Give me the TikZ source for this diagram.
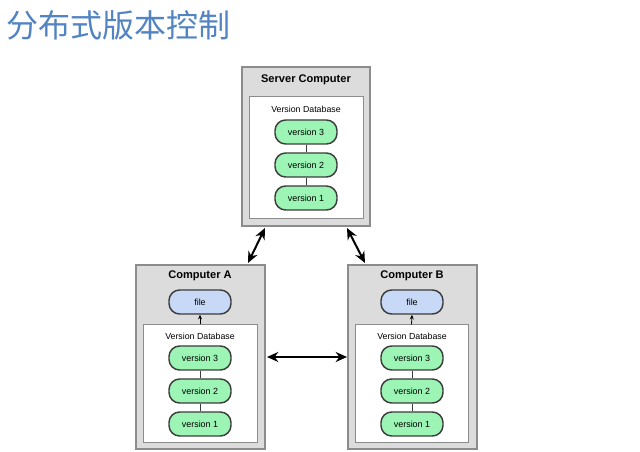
\documentclass[tikz,border=0pt]{standalone}
\usepackage{fontspec}
\setmainfont{Liberation Sans}
\newfontfamily\cjk{Noto Sans CJK SC}
\usetikzlibrary{arrows.meta}
\definecolor{titleblue}{HTML}{5283C2}
\definecolor{boxgray}{HTML}{DCDCDC}
\definecolor{boxedge}{HTML}{8C8C8C}
\definecolor{pillgreen}{HTML}{9CF5B5}
\definecolor{pillblue}{HTML}{C8D9F8}
\definecolor{pilledge}{HTML}{3C3C3C}
\begin{document}
\begin{tikzpicture}[x=0.75pt,y=-0.75pt,
  outerbox/.style={draw=boxedge, fill=boxgray, line width=0.9pt, inner sep=0pt},
  innerbox/.style={draw=boxedge, fill=white, line width=0.75pt, inner sep=0pt},
  pill/.style={draw=pilledge, line width=1.1pt, rounded corners=8pt, minimum width=46.5pt, minimum height=18pt, inner sep=0pt, font=\fontsize{6.7}{7}\selectfont},
  ver/.style={pill, fill=pillgreen},
  filep/.style={pill, fill=pillblue},
  boxtitle/.style={font=\bfseries\fontsize{8.3}{10}\selectfont, inner sep=0pt},
  dblabel/.style={font=\fontsize{6.6}{8}\selectfont, inner sep=0pt},
  vlink/.style={draw=pilledge, line width=0.6pt},
  sync/.style={line width=1.5pt, {Stealth[length=8.5pt,width=7.5pt]}-{Stealth[length=8.5pt,width=7.5pt]}},
  fetch/.style={line width=0.6pt, -{Stealth[length=3.5pt,width=3pt]}}
]
\useasboundingbox (0,0) rectangle (640,452);

% title
\node[font=\cjk\fontsize{24}{27}\selectfont, text=titleblue, anchor=west, inner sep=0pt] (title) at (6,25) {分布式版本控制};

% server
\node[outerbox, minimum width=96pt, minimum height=119.25pt] (srv) at (306,146.5) {};
\node[innerbox, minimum width=85.5pt, minimum height=91.5pt] (srvdb) at (306,158) {};
\node[boxtitle] (srvt) at (306,80) {Server Computer};
\node[dblabel] (srvdl) at (306,109) {Version Database};
\node[ver] (s3) at (306,132) {version 3};
\node[ver] (s2) at (306,165) {version 2};
\node[ver] (s1) at (306,198) {version 1};
\draw[vlink] (s3) -- (s2);
\draw[vlink] (s2) -- (s1);

% computer A
\node[outerbox, minimum width=96.75pt, minimum height=138pt] (ca) at (200.5,357) {};
\node[innerbox, minimum width=85.5pt, minimum height=88.5pt] (cadb) at (200,384) {};
\node[boxtitle] (cat) at (200,276) {Computer A};
\node[filep] (af) at (200,302) {file};
\node[dblabel] (adl) at (200,336) {Version Database};
\node[ver] (a3) at (200,358) {version 3};
\node[ver] (a2) at (200,391) {version 2};
\node[ver] (a1) at (200,424) {version 1};
\draw[vlink] (a3) -- (a2);
\draw[vlink] (a2) -- (a1);
\draw[fetch] (cadb.north) -- (af.south);

% computer B
\node[outerbox, minimum width=96.75pt, minimum height=138pt] (cb) at (412.5,357) {};
\node[innerbox, minimum width=84.75pt, minimum height=88.5pt] (cbdb) at (411.5,384) {};
\node[boxtitle] (cbt) at (412,276) {Computer B};
\node[filep] (bf) at (412,302) {file};
\node[dblabel] (bdl) at (412,336) {Version Database};
\node[ver] (b3) at (412,358) {version 3};
\node[ver] (b2) at (412,391) {version 2};
\node[ver] (b1) at (412,424) {version 1};
\draw[vlink] (b3) -- (b2);
\draw[vlink] (b2) -- (b1);
\draw[fetch] (cbdb.north) -- (bf.south);

% sync arrows
\coordinate (sa) at (265,228);
\coordinate (as) at (248,263);
\coordinate (sb) at (347,228);
\coordinate (bs) at (365,263);
\coordinate (ab) at (267,357);
\coordinate (ba) at (347,357);
\draw[sync] (sa) -- (as);
\draw[sync] (sb) -- (bs);
\draw[sync] (ab) -- (ba);
\end{tikzpicture}
\end{document}
